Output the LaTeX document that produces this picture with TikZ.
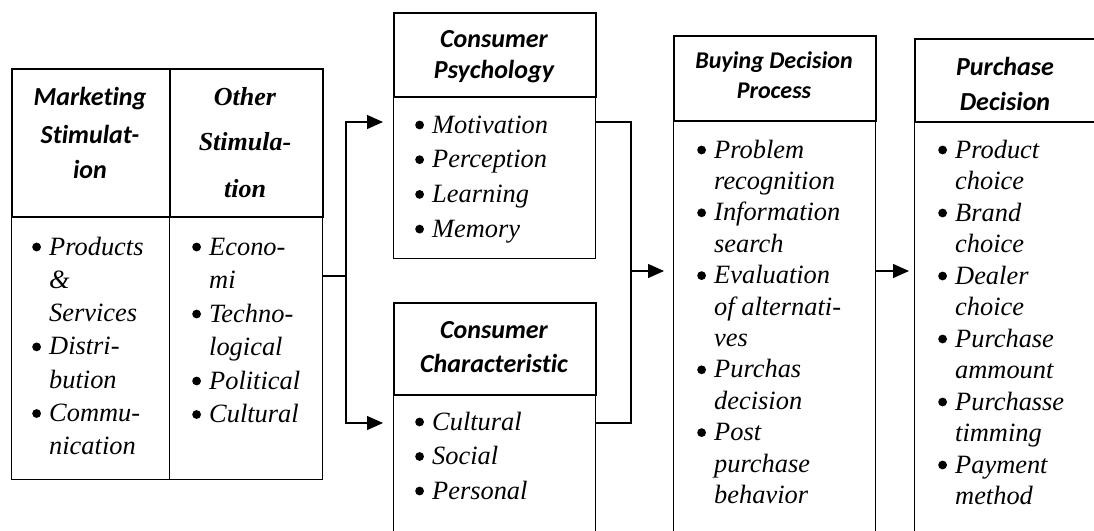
\documentclass[tikz,border=0pt]{standalone}
\usepackage{fontspec}
\setmainfont{Liberation Serif}
\newfontfamily\HeadFont[Ligatures=NoCommon]{Carlito}
\usetikzlibrary{arrows.meta}
\newcommand{\Bul}{\makebox[17pt][l]{\tikz[baseline=-8pt]\fill (0,0) circle (4.4pt);}}
\newcommand{\Ind}{\hspace*{17pt}}
\def\MarketingItems{\Bul Products, \Ind\&, \Ind Services, \Bul Distri-, \Ind bution, \Bul Commu-, \Ind nication}
\def\OtherItems{\Bul Econo-, \Ind mi, \Bul Techno-, \Ind logical, \Bul Political, \Bul Cultural}
\def\PsychItems{\Bul Motivation, \Bul Perception, \Bul Learning, \Bul Memory}
\def\CharItems{\Bul Cultural, \Bul Social, \Bul Personal}
\def\ProcessItems{\Bul Problem, \Ind recognition, \Bul Information, \Ind search, \Bul Evaluation, \Ind of alternati-, \Ind ves, \Bul Purchas, \Ind decision, \Bul Post, \Ind purchase, \Ind behavior}
\def\DecisionItems{\Bul Product, \Ind choice, \Bul Brand, \Ind choice, \Bul Dealer, \Ind choice, \Bul Purchase, \Ind ammount, \Bul Purchasse, \Ind timming, \Bul Payment, \Ind method}
\tikzset{
	HeadBox/.style={
		draw=black,
		line width=2.2pt,
		inner sep=0pt,
		anchor=north west,
	},
	BodyBox/.style={
		draw=black,
		line width=1.3pt,
		inner sep=0pt,
		anchor=north west,
	},
	HeadText/.style={
		font=\HeadFont\bfseries\itshape\fontsize{26}{30}\selectfont,
		inner sep=0pt,
		anchor=base,
	},
	ItemText/.style={
		font=\itshape\fontsize{26.4}{30}\selectfont,
		inner sep=0pt,
		text height=18pt,
		text depth=5pt,
		anchor=base west,
	},
	Link/.style={line width=1.3pt},
	Arrow/.style={Link, -{Triangle[length=16pt,width=14pt]}},
}

\begin{document}
\begin{tikzpicture}[x=1pt, y=-1pt]
	\useasboundingbox (0,0) rectangle (1094,530);
	\clip (0,0) rectangle (1094,530);
	% stimulation table
	\node [BodyBox, minimum width=158pt, minimum height=263pt] (mk-b) at (11,216) {};
	\node [BodyBox, minimum width=153pt, minimum height=263pt] (ot-b) at (169,216) {};
	\node [HeadBox, minimum width=158pt, minimum height=148pt] (mk-h) at (11,68) {};
	\node [HeadBox, minimum width=153pt, minimum height=148pt] (ot-h) at (169,68) {};
	% consumer boxes
	\node [BodyBox, minimum width=202pt, minimum height=162pt] (cp-b) at (393,96) {};
	\node [HeadBox, minimum width=202pt, minimum height=84pt] (cp-h) at (393,12) {};
	\node [BodyBox, minimum width=202pt, minimum height=160pt] (cc-b) at (393,394) {};
	\node [HeadBox, minimum width=202pt, minimum height=92pt] (cc-h) at (393,302) {};
	% process and decision
	\node [BodyBox, minimum width=202pt, minimum height=430pt] (bd-b) at (673,120) {};
	\node [HeadBox, minimum width=202pt, minimum height=85pt] (bd-h) at (673,35) {};
	\node [BodyBox, minimum width=182pt, minimum height=430pt] (pd-b) at (914,121) {};
	\node [HeadBox, minimum width=182pt, minimum height=83pt] (pd-h) at (914,38) {};

	% header texts
	\foreach \txt/\y [count=\i] in {Marketing/105, Stimulat-/143, ion/178}
		\node [HeadText] (mk-t\i) at (90,\y) {\txt};
	\foreach \txt/\y [count=\i] in {Other/105, Stimula-/150, tion/197}
		\node [HeadText, font=\bfseries\itshape\fontsize{26}{30}\selectfont] (ot-t\i) at (245,\y) {\txt};
	\foreach \txt/\y [count=\i] in {Consumer/47, Psychology/78}
		\node [HeadText] (cp-t\i) at (494,\y) {\txt};
	\foreach \txt/\y [count=\i] in {Consumer/338, Characteristic/372}
		\node [HeadText] (cc-t\i) at (494,\y) {\txt};
	\foreach \txt/\y [count=\i] in {Buying Decision/68, Process/98}
		\node [HeadText, font=\HeadFont\bfseries\itshape\fontsize{24}{28}\selectfont] (bd-t\i) at (774,\y) {\txt};
	\foreach \txt/\y [count=\i] in {Purchase/75, Decision/110}
		\node [HeadText] (pd-t\i) at (1005,\y) {\txt};

	% bullet lists
	\foreach \txt [count=\i from 0] in \MarketingItems
		\node [ItemText] (mk-l\i) at (32,255+33.3*\i) {\txt};
	\foreach \txt [count=\i from 0] in \OtherItems
		\node [ItemText] (ot-l\i) at (192,255+33.5*\i) {\txt};
	\foreach \txt [count=\i from 0] in \PsychItems
		\node [ItemText] (cp-l\i) at (415,133+34.7*\i) {\txt};
	\foreach \txt [count=\i from 0] in \CharItems
		\node [ItemText] (cc-l\i) at (415,430+34.5*\i) {\txt};
	\foreach \txt [count=\i from 0] in \ProcessItems
		\node [ItemText] (bd-l\i) at (697,158+31.4*\i) {\txt};
	\foreach \txt [count=\i from 0] in \DecisionItems
		\node [ItemText] (pd-l\i) at (938,158+31.5*\i) {\txt};

	% connectors
	\coordinate (split) at (346,276);
	\coordinate (in-cp) at (383,122);
	\coordinate (in-cc) at (383,423);
	\coordinate (join) at (631,271);
	\draw [Link] (ot-b.east |- split) -- (split);
	\draw [Arrow] (split) |- (in-cp);
	\draw [Arrow] (split) |- (in-cc);
	\draw [Link] (cp-b.east |- in-cp) -| (join);
	\draw [Link] (cc-b.east |- in-cc) -| (join);
	\draw [Arrow] (join) -- ([xshift=-9pt]bd-b.west |- join);
	\draw [Arrow] (bd-b.east |- join) -- ([xshift=-5pt]pd-b.west |- join);
\end{tikzpicture}
\end{document}
